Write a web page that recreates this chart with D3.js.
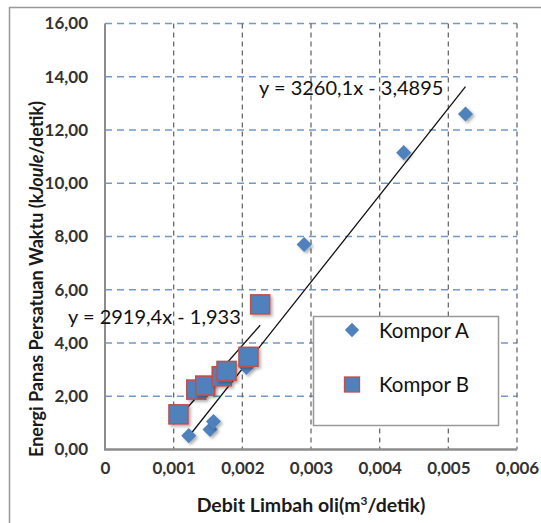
<!DOCTYPE html>
<html>
<head>
<meta charset="utf-8">
<script src="https://cdn.jsdelivr.net/npm/d3@7"></script>
<style>
  body { margin: 0; background: #fff; }
  svg { display: block; font-family: Lato, "Open Sans", sans-serif; }
</style>
</head>
<body>
<div id="chart"></div>
<script>
// data
var komporA_x = [ 0.00122, 0.00153, 0.00158, 0.00206, 0.0029, 0.00435, 0.00525 ],
  komporA_y = [ 0.52, 0.75, 1.05, 3.08, 7.7, 11.15, 12.6 ];

var komporB_x = [ 0.00107, 0.00133, 0.00146, 0.00170, 0.00177, 0.00209, 0.00226 ],
  komporB_y = [ 1.32, 2.25, 2.4, 2.75, 2.95, 3.48, 5.45 ];

// trend lines as printed on the chart
var trendNames = [ 'Kompor A', 'Kompor B' ],
  trendSlope = [ 3260.1, 2919.4 ],
  trendIntercept = [ -3.4895, -1.933 ],
  trendLabels = [ 'y = 3260,1x - 3,4895', 'y = 2919,4x - 1,933' ];

var xTicks = [ 0, 0.001, 0.002, 0.003, 0.004, 0.005, 0.006 ],
  yTicks = [ 0, 2, 4, 6, 8, 10, 12, 14, 16 ];

var width = 541, height = 523;
var pLeft = 105, pRight = 517, pTop = 23.5, pBottom = 449.5;

var xScale = d3.scaleLinear().domain( [ 0, 0.006 ] ).range( [ pLeft, pRight ] ),
  yScale = d3.scaleLinear().domain( [ 0, 16 ] ).range( [ pBottom, pTop ] );

var blue = '#4f81bd', red = '#c0504d';

var svg = d3.select( '#chart' ).append( 'svg' )
  .attr( 'width', width )
  .attr( 'height', height );

var defs = svg.append( 'defs' );
defs.append( 'filter' ).attr( 'id', 'shadow' )
  .attr( 'x', '-50%' ).attr( 'y', '-50%' ).attr( 'width', '200%' ).attr( 'height', '200%' )
  .append( 'feDropShadow' )
    .attr( 'dx', 2 ).attr( 'dy', 2 ).attr( 'stdDeviation', 1.5 )
    .attr( 'flood-color', '#000' ).attr( 'flood-opacity', 0.3 );

// outer frame
svg.append( 'path' )
  .attr( 'd', 'M9.5,' + height + 'V7.5H' + width )
  .attr( 'fill', 'none' )
  .attr( 'stroke', '#999' )
  .attr( 'stroke-width', 1.5 );

// horizontal grid (blue dashed)
svg.append( 'g' )
  .selectAll( 'line' )
  .data( yTicks.filter( d => d > 0 ) )
  .enter().append( 'line' )
    .attr( 'x1', pLeft ).attr( 'x2', pRight )
    .attr( 'y1', d => yScale( d ) ).attr( 'y2', d => yScale( d ) )
    .attr( 'stroke', '#7099cc' )
    .attr( 'stroke-width', 1.5 )
    .attr( 'stroke-dasharray', '7,5' );

// vertical grid (gray dashed)
svg.append( 'g' )
  .selectAll( 'line' )
  .data( xTicks.filter( d => d > 0 ) )
  .enter().append( 'line' )
    .attr( 'x1', d => xScale( d ) ).attr( 'x2', d => xScale( d ) )
    .attr( 'y1', pTop ).attr( 'y2', pBottom )
    .attr( 'stroke', '#6a6a6a' )
    .attr( 'stroke-width', 1.3 )
    .attr( 'stroke-dasharray', '5,4' );

// axes lines
svg.append( 'line' )
  .attr( 'x1', pLeft ).attr( 'x2', pLeft )
  .attr( 'y1', pTop ).attr( 'y2', pBottom )
  .attr( 'stroke', '#8c8c8c' ).attr( 'stroke-width', 2 );
svg.append( 'line' )
  .attr( 'x1', pLeft - 1 ).attr( 'x2', pRight )
  .attr( 'y1', pBottom ).attr( 'y2', pBottom )
  .attr( 'stroke', '#8c8c8c' ).attr( 'stroke-width', 2.5 );

// tick labels via d3 axes
var xAxis = d3.axisBottom( xScale )
  .tickValues( xTicks )
  .tickSize( 0 )
  .tickPadding( 0 )
  .tickFormat( d => d === 0 ? '0' : d3.format( '.3f' )( d ).replace( '.', ',' ) );

var gx = svg.append( 'g' )
  .attr( 'transform', 'translate(0,' + ( pBottom + 12 ) + ')' )
  .call( xAxis );
gx.select( '.domain' ).remove();
gx.selectAll( 'text' )
  .attr( 'font-family', 'Lato, sans-serif' )
  .attr( 'font-size', 17 )
  .attr( 'font-weight', 'bold' )
  .attr( 'fill', '#333' );

var yAxis = d3.axisLeft( yScale )
  .tickValues( yTicks )
  .tickSize( 0 )
  .tickPadding( 0 )
  .tickFormat( d => d3.format( '.2f' )( d ).replace( '.', ',' ) );

var gy = svg.append( 'g' )
  .attr( 'transform', 'translate(' + ( pLeft - 17 ) + ',0)' )
  .call( yAxis );
gy.select( '.domain' ).remove();
gy.selectAll( 'text' )
  .attr( 'font-family', 'Lato, sans-serif' )
  .attr( 'font-size', 17 )
  .attr( 'font-weight', 'bold' )
  .attr( 'fill', '#333' );

// axis titles
svg.append( 'text' )
  .attr( 'x', 311 ).attr( 'y', 512 )
  .attr( 'text-anchor', 'middle' )
  .attr( 'font-size', 19.5 ).attr( 'font-weight', 'bold' )
  .attr( 'fill', '#1a1a1a' )
  .html( 'Debit Limbah oli(m<tspan dy="-7" font-size="12">3</tspan><tspan dy="7">/detik)</tspan>' );

var yt = svg.append( 'text' )
  .attr( 'transform', 'translate(43,279) rotate(-90)' )
  .attr( 'text-anchor', 'middle' )
  .attr( 'font-size', 18 ).attr( 'font-weight', 'bold' )
  .attr( 'fill', '#1a1a1a' );
yt.append( 'tspan' ).text( 'Energi Panas Persatuan Waktu (k' );
yt.append( 'tspan' ).attr( 'font-style', 'italic' ).text( 'Joule' );
yt.append( 'tspan' ).text( '/detik)' );

// trend lines, spanning each series' x range
var ranges = [ d3.extent( komporA_x ), d3.extent( komporB_x ) ];
svg.append( 'g' )
  .selectAll( 'line' )
  .data( trendNames )
  .enter().append( 'line' )
    .attr( 'x1', ( d, i ) => xScale( ranges[ i ][ 0 ] ) )
    .attr( 'y1', ( d, i ) => yScale( trendSlope[ i ] * ranges[ i ][ 0 ] + trendIntercept[ i ] ) )
    .attr( 'x2', ( d, i ) => xScale( ranges[ i ][ 1 ] ) )
    .attr( 'y2', ( d, i ) => yScale( trendSlope[ i ] * ranges[ i ][ 1 ] + trendIntercept[ i ] ) )
    .attr( 'stroke', '#111' )
    .attr( 'stroke-width', 1.3 );

// Kompor A diamonds
var diamond = d3.symbol().type( d3.symbolDiamond2 ).size( 145 );
svg.append( 'g' )
  .selectAll( 'path' )
  .data( komporA_x )
  .enter().append( 'path' )
    .attr( 'd', diamond )
    .attr( 'transform', ( d, i ) => 'translate(' + xScale( d ) + ',' + yScale( komporA_y[ i ] ) + ')' )
    .attr( 'fill', blue )
    .attr( 'filter', 'url(#shadow)' );

// Kompor B squares
var sq = 19;
svg.append( 'g' )
  .selectAll( 'rect' )
  .data( komporB_x )
  .enter().append( 'rect' )
    .attr( 'x', d => xScale( d ) - sq / 2 )
    .attr( 'y', ( d, i ) => yScale( komporB_y[ i ] ) - sq / 2 )
    .attr( 'width', sq ).attr( 'height', sq )
    .attr( 'fill', blue )
    .attr( 'stroke', red )
    .attr( 'stroke-width', 1.6 )
    .attr( 'filter', 'url(#shadow)' );

// equation labels
svg.append( 'text' )
  .attr( 'x', 259 ).attr( 'y', 95 )
  .attr( 'font-size', 20 ).attr( 'fill', '#111' )
  .text( trendLabels[ 0 ] );
svg.append( 'text' )
  .attr( 'x', 68 ).attr( 'y', 324 )
  .attr( 'font-size', 20 ).attr( 'fill', '#111' )
  .text( trendLabels[ 1 ] );

// legend
var lg = svg.append( 'g' );
lg.append( 'rect' )
  .attr( 'x', 313.5 ).attr( 'y', 316.5 )
  .attr( 'width', 185 ).attr( 'height', 109 )
  .attr( 'fill', '#fff' )
  .attr( 'stroke', '#999' )
  .attr( 'stroke-width', 1.5 );
lg.append( 'path' )
  .attr( 'd', d3.symbol().type( d3.symbolDiamond2 ).size( 130 ) )
  .attr( 'transform', 'translate(352,330)' )
  .attr( 'fill', blue );
lg.append( 'rect' )
  .attr( 'x', 344.5 ).attr( 'y', 377 )
  .attr( 'width', 15 ).attr( 'height', 15 )
  .attr( 'fill', blue ).attr( 'stroke', red ).attr( 'stroke-width', 1.3 );
lg.selectAll( '.lt' )
  .data( trendNames )
  .enter().append( 'text' )
    .attr( 'class', 'lt' )
    .attr( 'x', 379 )
    .attr( 'y', ( d, i ) => 338 + i * 54 )
    .attr( 'font-size', 20.5 ).attr( 'fill', '#111' )
    .text( d => d );
</script>
</body>
</html>
